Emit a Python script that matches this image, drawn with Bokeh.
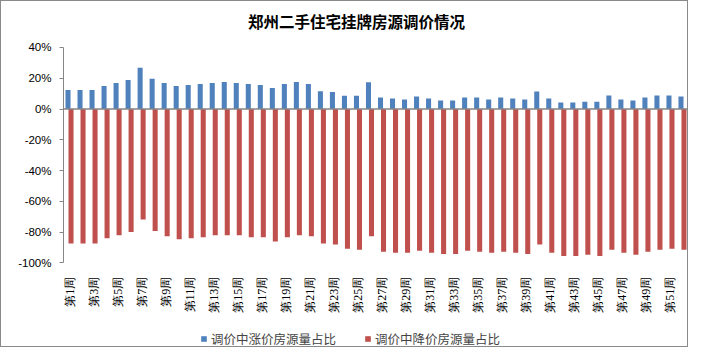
import math
from bokeh.plotting import figure
from bokeh.models import (ColumnDataSource, Range1d, FixedTicker, PrintfTickFormatter,
                          Span, Label, Legend, LegendItem)
from bokeh.transform import dodge
from bokeh.embed import file_html
from bokeh.resources import INLINE

title_text = "郑州二手住宅挂牌房源调价情况"
weeks = list(range(1, 53))
week_labels = {w: f"第{w}周" for w in weeks}
up_share = [12.3, 12.3, 12.3, 14.9, 16.9, 18.9, 26.8, 19.6, 16.9, 14.9,
            15.6, 16.3, 16.9, 17.6, 16.9, 16.3, 15.6, 13.6, 16.3, 17.6,
            16.3, 11.6, 11.0, 8.6, 8.6, 17.4, 7.5, 6.8, 6.2, 8.1,
            6.8, 5.5, 5.5, 7.5, 7.5, 6.2, 7.5, 6.8, 6.2, 11.4,
            6.8, 4.2, 4.2, 4.8, 4.8, 8.8, 6.2, 5.5, 7.5, 8.8,
            8.8, 8.1]
down_share = [-87.4, -87.4, -87.4, -84.0, -82.0, -80.0, -71.9, -79.3, -82.7, -84.7,
              -84.0, -83.4, -82.0, -82.0, -82.0, -83.4, -83.4, -86.1, -83.4, -82.0,
              -82.7, -87.4, -88.1, -90.8, -91.5, -82.7, -92.8, -93.5, -93.5, -92.1,
              -93.5, -94.2, -94.2, -92.1, -92.8, -93.5, -92.8, -93.5, -94.2, -88.1,
              -93.5, -95.5, -95.5, -94.8, -95.5, -91.5, -93.5, -94.8, -92.8, -91.5,
              -90.8, -91.5]
series_names = ["调价中涨价房源量占比", "调价中降价房源量占比"]
y_ticks = [-100, -80, -60, -40, -20, 0, 20, 40]

src = ColumnDataSource(dict(week=weeks, up=up_share, down=down_share))
label_weeks = [w for w in weeks if w % 2 == 1]
lab_src = ColumnDataSource(dict(week=label_weeks,
                                y=[min(y_ticks)] * len(label_weeks),
                                text=[week_labels[w] for w in label_weeks]))

GRAY = "#868686"
CJK = "Noto Sans CJK SC"

# frame covers the whole chart height; the value axis is bounded to -100..40
p = figure(width=688, height=347, output_backend="svg", toolbar_location=None,
           x_axis_location=None,
           x_range=Range1d(0.5, 52.5), y_range=Range1d(-155.7, 69.9),
           min_border_left=62, min_border_right=1, min_border_top=0, min_border_bottom=0)
p.styles = {"border": "1px solid #8a8a8a", "box-sizing": "border-box"}
p.outline_line_color = None
p.xgrid.visible = False
p.ygrid.visible = False

r_up = p.vbar(x=dodge("week", -0.125, range=p.x_range), top="up", bottom=0, width=0.42,
              source=src, fill_color="#4F81BD", line_color=None)
r_down = p.vbar(x=dodge("week", 0.125, range=p.x_range), top=0, bottom="down", width=0.42,
                source=src, fill_color="#C0504D", line_color=None)

p.add_layout(Span(location=0, dimension="width", line_color=GRAY, line_width=1.5))

# y axis
p.yaxis.bounds = (min(y_ticks), max(y_ticks))
p.yaxis.ticker = FixedTicker(ticks=y_ticks)
p.yaxis.formatter = PrintfTickFormatter(format="%d%%")
p.yaxis.axis_line_color = GRAY
p.yaxis.major_tick_line_color = GRAY
p.yaxis.major_tick_out = 4
p.yaxis.major_tick_in = 0
p.yaxis.minor_tick_line_color = None
p.yaxis.major_label_text_font = "Liberation Sans"
p.yaxis.major_label_text_font_size = "11.5px"
p.yaxis.major_label_text_color = "#000000"
p.yaxis.major_label_standoff = 8

# category labels (every other week), vertical
p.text(x="week", y="y", text="text", source=lab_src, angle=math.pi / 2, y_offset=14,
       text_align="right", text_baseline="middle", text_font=CJK,
       text_font_size="12px", text_color="#000000")

# title
p.add_layout(Label(x=293, y=328, x_units="screen", y_units="screen", text=title_text,
                   text_font=CJK, text_font_size="15.5px", text_font_style="bold",
                   text_align="center", text_baseline="middle", text_color="#000000"))

legend = Legend(items=[LegendItem(label=series_names[0], renderers=[r_up]),
                       LegendItem(label=series_names[1], renderers=[r_down])],
                location=(137, 0), orientation="horizontal",
                glyph_width=7, glyph_height=7, label_standoff=4, spacing=28,
                padding=0, margin=0, border_line_color=None, background_fill_alpha=0,
                label_text_font=CJK, label_text_font_size="12.5px", label_height=14)
p.add_layout(legend, "center")

open("out.html", "w").write(file_html(p, INLINE))
